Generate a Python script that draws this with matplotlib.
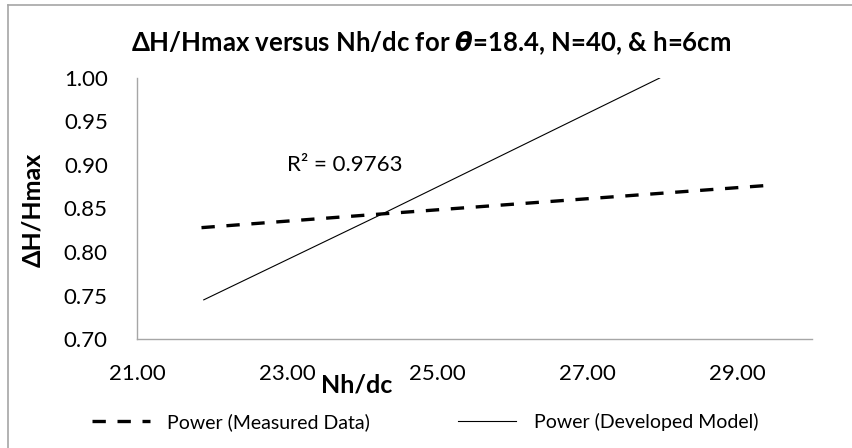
import matplotlib
matplotlib.use("Agg")
import matplotlib.pyplot as plt
from matplotlib.lines import Line2D

# -------------------------------
# Data (read off the trendlines)
# -------------------------------
measured_x = [21.86, 24.30, 29.48]
measured_y = [0.828, 0.844, 0.877]

model_x = [21.89, 24.30, 27.97]
model_y = [0.745, 0.845, 1.000]

x_ticks = [21, 23, 25, 27, 29]
y_ticks = [0.70, 0.75, 0.80, 0.85, 0.90, 0.95, 1.00]

r2_text = "R\u00b2 = 0.9763"

plt.rcParams["font.family"] = ["Lato", "DejaVu Sans"]
plt.rcParams["mathtext.fontset"] = "dejavusans"

fig = plt.figure(figsize=(8.53, 4.48), dpi=100)
ax = fig.add_axes([0.1606, 0.2433, 0.7913, 0.5826])

ax.plot(measured_x, measured_y, color="black", linewidth=2.4,
        linestyle=(0, (4, 3.5)), label="Power (Measured Data)")
ax.plot(model_x, model_y, color="black", linewidth=0.8,
        label="Power (Developed Model)")

ax.text(23.0, 0.90, r2_text, fontsize=16, ha="left", va="center")

ax.set_xlim(21, 30)
ax.set_ylim(0.70, 1.00)
ax.set_xticks(x_ticks)
ax.set_yticks(y_ticks)
ax.set_xticklabels(["{:.2f}".format(v) for v in x_ticks])
ax.set_yticklabels(["{:.2f}".format(v) for v in y_ticks])
ax.tick_params(length=0, labelsize=16)
ax.tick_params(axis="x", pad=18)
ax.tick_params(axis="y", pad=21)

for side in ["top", "right"]:
    ax.spines[side].set_visible(False)
for side in ["left", "bottom"]:
    ax.spines[side].set_color("#a6a6a6")
    ax.spines[side].set_linewidth(1.0)

ax.set_xlabel("Nh/dc", fontsize=18, fontweight="bold")
ax.xaxis.label.set_va("center")
ax.xaxis.set_label_coords(0.326, -0.176)
ax.set_ylabel("\u0394H/Hmax", fontsize=18, fontweight="bold")
ax.yaxis.label.set_va("center")
ax.yaxis.set_label_coords(-0.154, 0.494)

fig.text(0.506, 0.904,
         "\u0394H/Hmax versus Nh/dc for $\\boldsymbol{\\theta}$=18.4, N=40, & h=6cm",
         fontsize=18.5, fontweight="bold", ha="center", va="center")

fig.legend(loc="center", bbox_to_anchor=(0.498, 0.058), ncol=2,
           frameon=False, fontsize=14, handlelength=3.0,
           handletextpad=0.9, columnspacing=4.5)

# chart area border (only top and left visible)
fig.add_artist(Line2D([8 / 853, 1], [1 - 5 / 448, 1 - 5 / 448],
                      transform=fig.transFigure, color="#a6a6a6", linewidth=1.2))
fig.add_artist(Line2D([8 / 853, 8 / 853], [0, 1 - 5 / 448],
                      transform=fig.transFigure, color="#a6a6a6", linewidth=1.2))

fig.savefig("out.png", dpi=100, facecolor="white")
